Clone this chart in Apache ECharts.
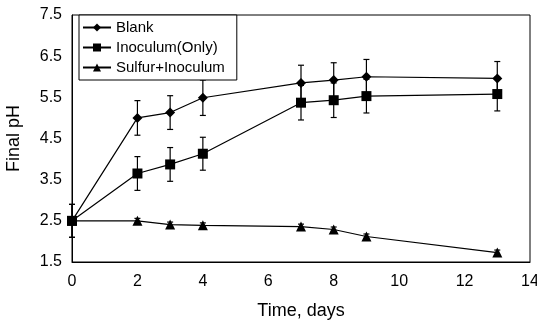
<!DOCTYPE html>
<html lang="en">
<head>
	<meta charset="UTF-8">
	<title>Final pH</title>
	<script src="https://cdn.jsdelivr.net/npm/echarts@6/dist/echarts.min.js"></script>
</head>
<body style="margin:0;background:#fff;">
	<div id="chart" style="width:537px;height:326px;"></div>
<script type="text/javascript">
	// data
	let days = [0, 2, 3, 4, 7, 8, 9, 13];
	let blank = [2.5, 5.0, 5.13, 5.49, 5.85, 5.92, 6.0, 5.96];
	let blankErr = [0.4, 0.42, 0.41, 0.43, 0.43, 0.42, 0.42, 0.41];
	let inoculum = [2.5, 3.65, 3.87, 4.13, 5.37, 5.43, 5.53, 5.58];
	let inoculumErr = [0.4, 0.41, 0.41, 0.4, 0.42, 0.42, 0.41, 0.41];
	let sulfur = [2.5, 2.5, 2.41, 2.39, 2.36, 2.29, 2.12, 1.73];
	let sulfurErr = [0.05, 0.06, 0.06, 0.06, 0.06, 0.06, 0.06, 0.06];
	let seriesNames = ['Blank', 'Inoculum(Only)', 'Sulfur+Inoculum'];

	let myChart = echarts.init(document.getElementById('chart'));
	let font = 'Liberation Sans, Arial, sans-serif';

	function pts(vals) {
		return days.map(function (d, i) { return [d, vals[i]]; });
	}
	function errPts(vals, err) {
		return days.map(function (d, i) { return [d, vals[i] - err[i], vals[i] + err[i]]; });
	}

	// 误差线
	function renderErr(params, api) {
		let lo = api.coord([api.value(0), api.value(1)]);
		let hi = api.coord([api.value(0), api.value(2)]);
		let w = 3;
		let st = { stroke: '#000', lineWidth: 1.2 };
		return {
			type: 'group',
			children: [
				{ type: 'line', shape: { x1: lo[0], y1: lo[1], x2: hi[0], y2: hi[1] }, style: st },
				{ type: 'line', shape: { x1: lo[0] - w, y1: lo[1], x2: lo[0] + w, y2: lo[1] }, style: st },
				{ type: 'line', shape: { x1: hi[0] - w, y1: hi[1], x2: hi[0] + w, y2: hi[1] }, style: st }
			]
		};
	}

	function lineSeries(name, vals, symbol, size) {
		return {
			name: name,
			type: 'line',
			data: pts(vals),
			symbol: symbol,
			symbolSize: size,
			z: 3,
			lineStyle: { color: '#000', width: 1.2 },
			itemStyle: { color: '#000' }
		};
	}
	function errSeries(vals, err) {
		return {
			type: 'custom',
			renderItem: renderErr,
			data: errPts(vals, err),
			encode: { x: 0, y: [1, 2] },
			z: 2,
			silent: true
		};
	}

	let option = {
		animation: false,
		grid: {
			left: 72, right: 7, top: 15, bottom: 64,
			outerBoundsMode: 'none',
			show: true, borderColor: '#000', borderWidth: 1
		},
		legend: {
			orient: 'vertical',
			left: 79, top: 15,
			data: seriesNames,
			itemWidth: 28,
			itemHeight: 10,
			itemGap: 3,
			padding: [4, 12, 4, 3],
			borderColor: '#000',
			borderWidth: 1,
			backgroundColor: '#fff',
			textStyle: { fontFamily: font, fontSize: 15, lineHeight: 17, color: '#000' }
		},
		xAxis: {
			type: 'value',
			min: 0, max: 14, interval: 2,
			name: 'Time, days',
			nameLocation: 'middle',
			nameGap: 40,
			nameTextStyle: { fontFamily: font, fontSize: 18, color: '#000' },
			axisLine: { lineStyle: { color: '#000' } },
			axisTick: { show: false },
			splitLine: { show: false },
			axisLabel: { fontFamily: font, fontSize: 16, color: '#000', margin: 12 }
		},
		yAxis: {
			type: 'value',
			min: 1.5, max: 7.5, interval: 1,
			name: 'Final pH',
			nameLocation: 'middle',
			nameGap: 49,
			nameTextStyle: { fontFamily: font, fontSize: 18, color: '#000' },
			axisLine: { show: true, lineStyle: { color: '#000' } },
			axisTick: { show: false },
			splitLine: { show: false },
			axisLabel: {
				fontFamily: font, fontSize: 16, color: '#000', margin: 10,
				formatter: function (v) { return v.toFixed(1); }
			}
		},
		series: [
			errSeries(blank, blankErr),
			errSeries(inoculum, inoculumErr),
			errSeries(sulfur, sulfurErr),
			lineSeries(seriesNames[0], blank, 'diamond', 10),
			lineSeries(seriesNames[1], inoculum, 'rect', 10),
			lineSeries(seriesNames[2], sulfur, 'triangle', 10)
		]
	};
	myChart.setOption(option);
</script>
</body>
</html>
